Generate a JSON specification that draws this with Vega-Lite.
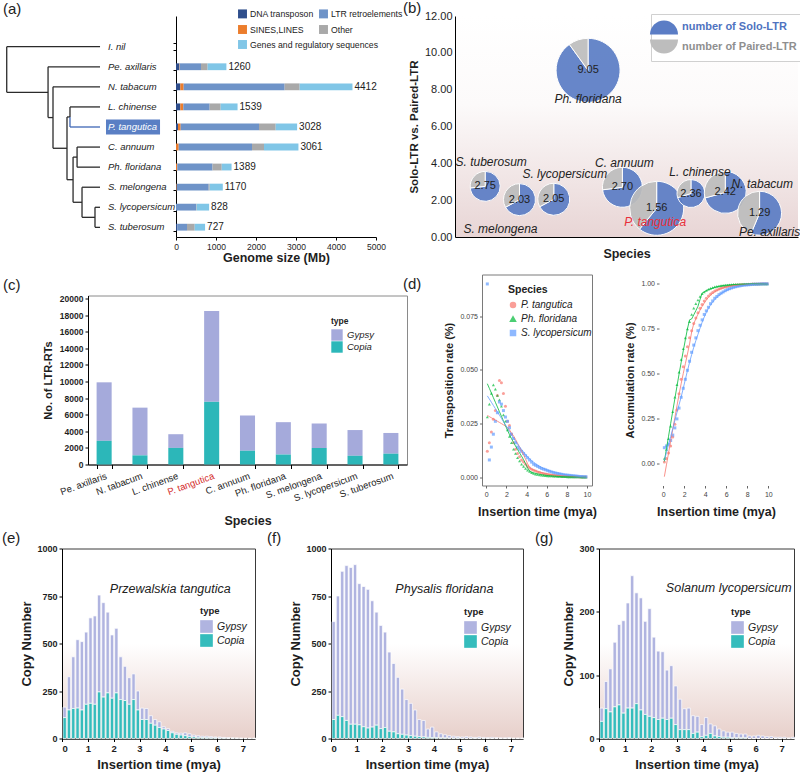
{
"$schema":"https://vega.github.io/schema/vega-lite/v6.json",
"autosize":{"type":"pad"},
"padding":{"left":0,"top":0,"right":0,"bottom":2},
"background":"white",
"config":{"font":"Liberation Sans","view":{"stroke":null},
 "axis":{"grid":false,"domainColor":"#000","tickColor":"#000","labelColor":"#1e1e1e","titleColor":"#1e1e1e","labelOverlap":false},
 "title":{"fontSize":15,"fontWeight":"normal","color":"#222","anchor":"start"},
 "legend":{"labelColor":"#222","titleColor":"#222"}},
"datasets":{
"tree":[
{"x0":0,"x1":0,"y0":0,"y1":2.27,"to":"R"},{"x0":0,"x1":1,"y0":0,"y1":0,"to":"I. nil"},{"x0":0,"x1":0.443,"y0":2.27,"y1":2.27,"to":"A"},
{"x0":0.443,"x1":0.443,"y0":1,"y1":3.53,"to":"A"},{"x0":0.443,"x1":1,"y0":1,"y1":1,"to":"Pe. axillaris"},{"x0":0.443,"x1":0.496,"y0":3.53,"y1":3.53,"to":"B"},
{"x0":0.496,"x1":0.496,"y0":2,"y1":5.06,"to":"B"},{"x0":0.496,"x1":1,"y0":2,"y1":2,"to":"N. tabacum"},{"x0":0.496,"x1":0.646,"y0":5.06,"y1":5.06,"to":"C"},
{"x0":0.646,"x1":0.646,"y0":3.5,"y1":6.625,"to":"C"},{"x0":0.646,"x1":0.678,"y0":3.5,"y1":3.5,"to":"D"},{"x0":0.646,"x1":0.711,"y0":6.625,"y1":6.625,"to":"E"},
{"x0":0.678,"x1":0.678,"y0":3,"y1":3.5,"to":"L. chinense"},{"x0":0.678,"x1":0.678,"y0":3.5,"y1":4,"to":"P. tangutica"},{"x0":0.678,"x1":1,"y0":3,"y1":3,"to":"L. chinense"},{"x0":0.678,"x1":1,"y0":4,"y1":4,"to":"P. tangutica"},
{"x0":0.711,"x1":0.711,"y0":5.5,"y1":7.75,"to":"E"},{"x0":0.711,"x1":0.754,"y0":5.5,"y1":5.5,"to":"F"},{"x0":0.711,"x1":0.807,"y0":7.75,"y1":7.75,"to":"G"},
{"x0":0.754,"x1":0.754,"y0":5,"y1":6,"to":"F"},{"x0":0.754,"x1":1,"y0":5,"y1":5,"to":"C. annuum"},{"x0":0.754,"x1":1,"y0":6,"y1":6,"to":"Ph. floridana"},
{"x0":0.807,"x1":0.807,"y0":7,"y1":8.5,"to":"G"},{"x0":0.807,"x1":1,"y0":7,"y1":7,"to":"S. melongena"},{"x0":0.807,"x1":0.946,"y0":8.5,"y1":8.5,"to":"H"},
{"x0":0.946,"x1":0.946,"y0":8,"y1":9,"to":"H"},{"x0":0.946,"x1":1,"y0":8,"y1":8,"to":"S. lycopersicum"},{"x0":0.946,"x1":1,"y0":9,"y1":9,"to":"S. tuberosum"}],
"species10":[{"species":"I. nil","row":0},{"species":"Pe. axillaris","row":1},{"species":"N. tabacum","row":2},{"species":"L. chinense","row":3},{"species":"P. tangutica","row":4},{"species":"C. annuum","row":5},{"species":"Ph. floridana","row":6},{"species":"S. melongena","row":7},{"species":"S. lycopersicum","row":8},{"species":"S. tuberosum","row":9}],
"genome":[
{"species":"Pe. axillaris","type":"DNA transposon","mb":80},{"species":"Pe. axillaris","type":"SINES,LINES","mb":10},{"species":"Pe. axillaris","type":"LTR retroelements","mb":535},{"species":"Pe. axillaris","type":"Other","mb":165},{"species":"Pe. axillaris","type":"Genes and regulatory sequences","mb":470},
{"species":"N. tabacum","type":"DNA transposon","mb":108},{"species":"N. tabacum","type":"SINES,LINES","mb":83},{"species":"N. tabacum","type":"LTR retroelements","mb":2525},{"species":"N. tabacum","type":"Other","mb":375},{"species":"N. tabacum","type":"Genes and regulatory sequences","mb":1321},
{"species":"L. chinense","type":"DNA transposon","mb":108},{"species":"L. chinense","type":"SINES,LINES","mb":75},{"species":"L. chinense","type":"LTR retroelements","mb":658},{"species":"L. chinense","type":"Other","mb":275},{"species":"L. chinense","type":"Genes and regulatory sequences","mb":423},
{"species":"P. tangutica","type":"DNA transposon","mb":50},{"species":"P. tangutica","type":"SINES,LINES","mb":67},{"species":"P. tangutica","type":"LTR retroelements","mb":1958},{"species":"P. tangutica","type":"Other","mb":417},{"species":"P. tangutica","type":"Genes and regulatory sequences","mb":536},
{"species":"C. annuum","type":"DNA transposon","mb":0},{"species":"C. annuum","type":"SINES,LINES","mb":67},{"species":"C. annuum","type":"LTR retroelements","mb":1833},{"species":"C. annuum","type":"Other","mb":300},{"species":"C. annuum","type":"Genes and regulatory sequences","mb":861},
{"species":"Ph. floridana","type":"DNA transposon","mb":0},{"species":"Ph. floridana","type":"SINES,LINES","mb":33},{"species":"Ph. floridana","type":"LTR retroelements","mb":880},{"species":"Ph. floridana","type":"Other","mb":230},{"species":"Ph. floridana","type":"Genes and regulatory sequences","mb":246},
{"species":"S. melongena","type":"DNA transposon","mb":0},{"species":"S. melongena","type":"SINES,LINES","mb":17},{"species":"S. melongena","type":"LTR retroelements","mb":800},{"species":"S. melongena","type":"Other","mb":25},{"species":"S. melongena","type":"Genes and regulatory sequences","mb":328},
{"species":"S. lycopersicum","type":"DNA transposon","mb":0},{"species":"S. lycopersicum","type":"SINES,LINES","mb":0},{"species":"S. lycopersicum","type":"LTR retroelements","mb":500},{"species":"S. lycopersicum","type":"Other","mb":15},{"species":"S. lycopersicum","type":"Genes and regulatory sequences","mb":313},
{"species":"S. tuberosum","type":"DNA transposon","mb":33},{"species":"S. tuberosum","type":"SINES,LINES","mb":0},{"species":"S. tuberosum","type":"LTR retroelements","mb":242},{"species":"S. tuberosum","type":"Other","mb":192},{"species":"S. tuberosum","type":"Genes and regulatory sequences","mb":260}],
"totals":[{"species":"Pe. axillaris","total":1260},{"species":"N. tabacum","total":4412},{"species":"L. chinense","total":1539},{"species":"P. tangutica","total":3028},{"species":"C. annuum","total":3061},{"species":"Ph. floridana","total":1389},{"species":"S. melongena","total":1170},{"species":"S. lycopersicum","total":828},{"species":"S. tuberosum","total":727}],
"pies":[
{"species":"S. tuberosum","ratio":2.75,"n":2250,"part":"number of Solo-LTR","value":2.75},{"species":"S. tuberosum","ratio":2.75,"n":2250,"part":"number of Paired-LTR","value":1},
{"species":"S. melongena","ratio":2.03,"n":2560,"part":"number of Solo-LTR","value":2.03},{"species":"S. melongena","ratio":2.03,"n":2560,"part":"number of Paired-LTR","value":1},
{"species":"S. lycopersicum","ratio":2.05,"n":2560,"part":"number of Solo-LTR","value":2.05},{"species":"S. lycopersicum","ratio":2.05,"n":2560,"part":"number of Paired-LTR","value":1},
{"species":"Ph. floridana","ratio":9.05,"n":10240,"part":"number of Solo-LTR","value":9.05},{"species":"Ph. floridana","ratio":9.05,"n":10240,"part":"number of Paired-LTR","value":1},
{"species":"C. annuum","ratio":2.70,"n":4000,"part":"number of Solo-LTR","value":2.70},{"species":"C. annuum","ratio":2.70,"n":4000,"part":"number of Paired-LTR","value":1},
{"species":"P. tangutica","ratio":1.56,"n":7290,"part":"number of Solo-LTR","value":1.56},{"species":"P. tangutica","ratio":1.56,"n":7290,"part":"number of Paired-LTR","value":1},
{"species":"L. chinense","ratio":2.36,"n":1960,"part":"number of Solo-LTR","value":2.36},{"species":"L. chinense","ratio":2.36,"n":1960,"part":"number of Paired-LTR","value":1},
{"species":"N. tabacum","ratio":2.42,"n":4410,"part":"number of Solo-LTR","value":2.42},{"species":"N. tabacum","ratio":2.42,"n":4410,"part":"number of Paired-LTR","value":1},
{"species":"Pe. axillaris","ratio":1.29,"n":4840,"part":"number of Solo-LTR","value":1.29},{"species":"Pe. axillaris","ratio":1.29,"n":4840,"part":"number of Paired-LTR","value":1}],
"ltr":[{"species":"Pe. axillaris","Gypsy":7050,"Copia":2850},{"species":"N. tabacum","Gypsy":5750,"Copia":1100},{"species":"L. chinense","Gypsy":1650,"Copia":2000},{"species":"P. tangutica","Gypsy":10950,"Copia":7550},{"species":"C. annuum","Gypsy":4250,"Copia":1650},{"species":"Ph. floridana","Gypsy":3900,"Copia":1200},{"species":"S. melongena","Gypsy":2950,"Copia":2000},{"species":"S. lycopersicum","Gypsy":3100,"Copia":1050},{"species":"S. tuberosum","Gypsy":2500,"Copia":1300}],
"rates":[
{"sp":"P. tangutica","t":0.1,"rate":0.012,"acc":0.01},{"sp":"P. tangutica","t":0.3,"rate":0.016,"acc":0.03},{"sp":"P. tangutica","t":0.5,"rate":0.021,"acc":0.06},{"sp":"P. tangutica","t":0.7,"rate":0.027,"acc":0.10},{"sp":"P. tangutica","t":0.9,"rate":0.031,"acc":0.15},{"sp":"P. tangutica","t":1.1,"rate":0.038,"acc":0.22},{"sp":"P. tangutica","t":1.3,"rate":0.045,"acc":0.30},{"sp":"P. tangutica","t":1.5,"rate":0.044,"acc":0.39},{"sp":"P. tangutica","t":1.7,"rate":0.039,"acc":0.47},{"sp":"P. tangutica","t":1.9,"rate":0.033,"acc":0.54},
{"sp":"P. tangutica","t":2.1,"rate":0.026,"acc":0.60},{"sp":"P. tangutica","t":2.3,"rate":0.024,"acc":0.65},{"sp":"P. tangutica","t":2.5,"rate":0.020,"acc":0.70},{"sp":"P. tangutica","t":2.7,"rate":0.016,"acc":0.74},{"sp":"P. tangutica","t":2.9,"rate":0.013,"acc":0.78},{"sp":"P. tangutica","t":3.1,"rate":0.011,"acc":0.81},{"sp":"P. tangutica","t":3.3,"rate":0.0095,"acc":0.84},{"sp":"P. tangutica","t":3.5,"rate":0.008,"acc":0.865},{"sp":"P. tangutica","t":3.7,"rate":0.007,"acc":0.885},{"sp":"P. tangutica","t":3.9,"rate":0.006,"acc":0.905},
{"sp":"P. tangutica","t":4.1,"rate":0.005,"acc":0.92},{"sp":"P. tangutica","t":4.3,"rate":0.0043,"acc":0.932},{"sp":"P. tangutica","t":4.5,"rate":0.0037,"acc":0.943},{"sp":"P. tangutica","t":4.7,"rate":0.0032,"acc":0.952},{"sp":"P. tangutica","t":4.9,"rate":0.0028,"acc":0.96},{"sp":"P. tangutica","t":5.1,"rate":0.0024,"acc":0.966},{"sp":"P. tangutica","t":5.3,"rate":0.0021,"acc":0.971},{"sp":"P. tangutica","t":5.5,"rate":0.0018,"acc":0.976},{"sp":"P. tangutica","t":5.7,"rate":0.0016,"acc":0.98},{"sp":"P. tangutica","t":5.9,"rate":0.0014,"acc":0.983},
{"sp":"P. tangutica","t":6.1,"rate":0.0012,"acc":0.986},{"sp":"P. tangutica","t":6.3,"rate":0.0011,"acc":0.988},{"sp":"P. tangutica","t":6.5,"rate":0.001,"acc":0.99},{"sp":"P. tangutica","t":6.7,"rate":0.0009,"acc":0.992},{"sp":"P. tangutica","t":6.9,"rate":0.0008,"acc":0.993},{"sp":"P. tangutica","t":7.1,"rate":0.0007,"acc":0.994},{"sp":"P. tangutica","t":7.3,"rate":0.0006,"acc":0.995},{"sp":"P. tangutica","t":7.5,"rate":0.0005,"acc":0.996},{"sp":"P. tangutica","t":7.7,"rate":0.0005,"acc":0.997},{"sp":"P. tangutica","t":7.9,"rate":0.0004,"acc":0.997},
{"sp":"P. tangutica","t":8.1,"rate":0.0004,"acc":0.998},{"sp":"P. tangutica","t":8.3,"rate":0.0003,"acc":0.998},{"sp":"P. tangutica","t":8.5,"rate":0.0003,"acc":0.999},{"sp":"P. tangutica","t":8.7,"rate":0.0002,"acc":0.999},{"sp":"P. tangutica","t":8.9,"rate":0.0002,"acc":0.999},{"sp":"P. tangutica","t":9.1,"rate":0.0002,"acc":0.999},{"sp":"P. tangutica","t":9.3,"rate":0.0001,"acc":1},{"sp":"P. tangutica","t":9.5,"rate":0.0001,"acc":1},{"sp":"P. tangutica","t":9.7,"rate":0.0001,"acc":1},{"sp":"P. tangutica","t":9.9,"rate":0.0001,"acc":1},
{"sp":"Ph. floridana","t":0.1,"rate":0.028,"acc":0.03},{"sp":"Ph. floridana","t":0.3,"rate":0.034,"acc":0.08},{"sp":"Ph. floridana","t":0.5,"rate":0.039,"acc":0.14},{"sp":"Ph. floridana","t":0.7,"rate":0.043,"acc":0.21},{"sp":"Ph. floridana","t":0.9,"rate":0.041,"acc":0.29},{"sp":"Ph. floridana","t":1.1,"rate":0.038,"acc":0.37},{"sp":"Ph. floridana","t":1.3,"rate":0.036,"acc":0.44},{"sp":"Ph. floridana","t":1.5,"rate":0.033,"acc":0.51},{"sp":"Ph. floridana","t":1.7,"rate":0.029,"acc":0.58},{"sp":"Ph. floridana","t":1.9,"rate":0.026,"acc":0.64},
{"sp":"Ph. floridana","t":2.1,"rate":0.022,"acc":0.70},{"sp":"Ph. floridana","t":2.3,"rate":0.019,"acc":0.75},{"sp":"Ph. floridana","t":2.5,"rate":0.016,"acc":0.79},{"sp":"Ph. floridana","t":2.7,"rate":0.013,"acc":0.83},{"sp":"Ph. floridana","t":2.9,"rate":0.011,"acc":0.865},{"sp":"Ph. floridana","t":3.1,"rate":0.009,"acc":0.89},{"sp":"Ph. floridana","t":3.3,"rate":0.0075,"acc":0.91},{"sp":"Ph. floridana","t":3.5,"rate":0.006,"acc":0.93},{"sp":"Ph. floridana","t":3.7,"rate":0.005,"acc":0.945},{"sp":"Ph. floridana","t":3.9,"rate":0.004,"acc":0.955},
{"sp":"Ph. floridana","t":4.1,"rate":0.0032,"acc":0.963},{"sp":"Ph. floridana","t":4.3,"rate":0.0026,"acc":0.97},{"sp":"Ph. floridana","t":4.5,"rate":0.0021,"acc":0.975},{"sp":"Ph. floridana","t":4.7,"rate":0.0017,"acc":0.979},{"sp":"Ph. floridana","t":4.9,"rate":0.0014,"acc":0.983},{"sp":"Ph. floridana","t":5.1,"rate":0.0012,"acc":0.986},{"sp":"Ph. floridana","t":5.3,"rate":0.001,"acc":0.988},{"sp":"Ph. floridana","t":5.5,"rate":0.0009,"acc":0.99},{"sp":"Ph. floridana","t":5.7,"rate":0.0008,"acc":0.992},{"sp":"Ph. floridana","t":5.9,"rate":0.0007,"acc":0.993},
{"sp":"Ph. floridana","t":6.1,"rate":0.0006,"acc":0.994},{"sp":"Ph. floridana","t":6.3,"rate":0.0005,"acc":0.995},{"sp":"Ph. floridana","t":6.5,"rate":0.0005,"acc":0.996},{"sp":"Ph. floridana","t":6.7,"rate":0.0004,"acc":0.997},{"sp":"Ph. floridana","t":6.9,"rate":0.0004,"acc":0.997},{"sp":"Ph. floridana","t":7.1,"rate":0.0003,"acc":0.998},{"sp":"Ph. floridana","t":7.3,"rate":0.0003,"acc":0.998},{"sp":"Ph. floridana","t":7.5,"rate":0.0002,"acc":0.998},{"sp":"Ph. floridana","t":7.7,"rate":0.0002,"acc":0.999},{"sp":"Ph. floridana","t":7.9,"rate":0.0002,"acc":0.999},
{"sp":"Ph. floridana","t":8.1,"rate":0.0001,"acc":0.999},{"sp":"Ph. floridana","t":8.3,"rate":0.0001,"acc":0.999},{"sp":"Ph. floridana","t":8.5,"rate":0.0001,"acc":1},{"sp":"Ph. floridana","t":8.7,"rate":0.0001,"acc":1},{"sp":"Ph. floridana","t":8.9,"rate":0.0001,"acc":1},{"sp":"Ph. floridana","t":9.1,"rate":0.0001,"acc":1},{"sp":"Ph. floridana","t":9.3,"rate":0.0001,"acc":1},{"sp":"Ph. floridana","t":9.5,"rate":0,"acc":1},{"sp":"Ph. floridana","t":9.7,"rate":0,"acc":1},{"sp":"Ph. floridana","t":9.9,"rate":0,"acc":1},
{"sp":"S. lycopersicum","t":0.1,"rate":0.090,"acc":0.09},{"sp":"S. lycopersicum","t":0.3,"rate":0.008,"acc":0.10},{"sp":"S. lycopersicum","t":0.5,"rate":0.014,"acc":0.11},{"sp":"S. lycopersicum","t":0.7,"rate":0.020,"acc":0.13},{"sp":"S. lycopersicum","t":0.9,"rate":0.026,"acc":0.16},{"sp":"S. lycopersicum","t":1.1,"rate":0.030,"acc":0.20},{"sp":"S. lycopersicum","t":1.3,"rate":0.035,"acc":0.25},{"sp":"S. lycopersicum","t":1.5,"rate":0.034,"acc":0.31},{"sp":"S. lycopersicum","t":1.7,"rate":0.031,"acc":0.37},{"sp":"S. lycopersicum","t":1.9,"rate":0.028,"acc":0.42},
{"sp":"S. lycopersicum","t":2.1,"rate":0.026,"acc":0.47},{"sp":"S. lycopersicum","t":2.3,"rate":0.023,"acc":0.52},{"sp":"S. lycopersicum","t":2.5,"rate":0.020,"acc":0.57},{"sp":"S. lycopersicum","t":2.7,"rate":0.018,"acc":0.62},{"sp":"S. lycopersicum","t":2.9,"rate":0.016,"acc":0.66},{"sp":"S. lycopersicum","t":3.1,"rate":0.014,"acc":0.70},{"sp":"S. lycopersicum","t":3.3,"rate":0.013,"acc":0.74},{"sp":"S. lycopersicum","t":3.5,"rate":0.012,"acc":0.77},{"sp":"S. lycopersicum","t":3.7,"rate":0.011,"acc":0.80},{"sp":"S. lycopersicum","t":3.9,"rate":0.010,"acc":0.83},
{"sp":"S. lycopersicum","t":4.1,"rate":0.009,"acc":0.85},{"sp":"S. lycopersicum","t":4.3,"rate":0.008,"acc":0.87},{"sp":"S. lycopersicum","t":4.5,"rate":0.007,"acc":0.89},{"sp":"S. lycopersicum","t":4.7,"rate":0.006,"acc":0.905},{"sp":"S. lycopersicum","t":4.9,"rate":0.0055,"acc":0.92},{"sp":"S. lycopersicum","t":5.1,"rate":0.005,"acc":0.93},{"sp":"S. lycopersicum","t":5.3,"rate":0.0045,"acc":0.94},{"sp":"S. lycopersicum","t":5.5,"rate":0.004,"acc":0.948},{"sp":"S. lycopersicum","t":5.7,"rate":0.0037,"acc":0.955},{"sp":"S. lycopersicum","t":5.9,"rate":0.0034,"acc":0.962},
{"sp":"S. lycopersicum","t":6.1,"rate":0.003,"acc":0.968},{"sp":"S. lycopersicum","t":6.3,"rate":0.0027,"acc":0.973},{"sp":"S. lycopersicum","t":6.5,"rate":0.0024,"acc":0.977},{"sp":"S. lycopersicum","t":6.7,"rate":0.0021,"acc":0.981},{"sp":"S. lycopersicum","t":6.9,"rate":0.0019,"acc":0.984},{"sp":"S. lycopersicum","t":7.1,"rate":0.0017,"acc":0.987},{"sp":"S. lycopersicum","t":7.3,"rate":0.0015,"acc":0.989},{"sp":"S. lycopersicum","t":7.5,"rate":0.0013,"acc":0.991},{"sp":"S. lycopersicum","t":7.7,"rate":0.0011,"acc":0.993},{"sp":"S. lycopersicum","t":7.9,"rate":0.001,"acc":0.994},
{"sp":"S. lycopersicum","t":8.1,"rate":0.0009,"acc":0.995},{"sp":"S. lycopersicum","t":8.3,"rate":0.0008,"acc":0.996},{"sp":"S. lycopersicum","t":8.5,"rate":0.0007,"acc":0.997},{"sp":"S. lycopersicum","t":8.7,"rate":0.0006,"acc":0.998},{"sp":"S. lycopersicum","t":8.9,"rate":0.0005,"acc":0.998},{"sp":"S. lycopersicum","t":9.1,"rate":0.0004,"acc":0.999},{"sp":"S. lycopersicum","t":9.3,"rate":0.0003,"acc":0.999},{"sp":"S. lycopersicum","t":9.5,"rate":0.0003,"acc":1},{"sp":"S. lycopersicum","t":9.7,"rate":0.0002,"acc":1},{"sp":"S. lycopersicum","t":9.9,"rate":0.0002,"acc":1}],
"pt_hist":[
{"t0":0,"t1":0.167,"Gypsy":55,"Copia":110},{"t0":0.167,"t1":0.333,"Gypsy":175,"Copia":150},{"t0":0.333,"t1":0.5,"Gypsy":272,"Copia":158},{"t0":0.5,"t1":0.667,"Gypsy":360,"Copia":160},{"t0":0.667,"t1":0.833,"Gypsy":360,"Copia":150},{"t0":0.833,"t1":1,"Gypsy":380,"Copia":180},{"t0":1,"t1":1.167,"Gypsy":450,"Copia":185},{"t0":1.167,"t1":1.333,"Gypsy":465,"Copia":180},{"t0":1.333,"t1":1.5,"Gypsy":510,"Copia":245},
{"t0":1.5,"t1":1.667,"Gypsy":497,"Copia":218},{"t0":1.667,"t1":1.833,"Gypsy":425,"Copia":240},{"t0":1.833,"t1":2,"Gypsy":333,"Copia":212},{"t0":2,"t1":2.167,"Gypsy":340,"Copia":240},{"t0":2.167,"t1":2.333,"Gypsy":225,"Copia":205},{"t0":2.333,"t1":2.5,"Gypsy":180,"Copia":200},{"t0":2.5,"t1":2.667,"Gypsy":140,"Copia":180},{"t0":2.667,"t1":2.833,"Gypsy":135,"Copia":205},{"t0":2.833,"t1":3,"Gypsy":100,"Copia":150},
{"t0":3,"t1":3.167,"Gypsy":60,"Copia":100},{"t0":3.167,"t1":3.333,"Gypsy":58,"Copia":100},{"t0":3.333,"t1":3.5,"Gypsy":40,"Copia":80},{"t0":3.5,"t1":3.667,"Gypsy":30,"Copia":70},{"t0":3.667,"t1":3.833,"Gypsy":30,"Copia":58},{"t0":3.833,"t1":4,"Gypsy":12,"Copia":50},{"t0":4,"t1":4.167,"Gypsy":10,"Copia":42},{"t0":4.167,"t1":4.333,"Gypsy":8,"Copia":30},{"t0":4.333,"t1":4.5,"Gypsy":8,"Copia":22},
{"t0":4.5,"t1":4.667,"Gypsy":10,"Copia":18},{"t0":4.667,"t1":4.833,"Gypsy":15,"Copia":15},{"t0":4.833,"t1":5,"Gypsy":15,"Copia":10},{"t0":5,"t1":5.167,"Gypsy":10,"Copia":8},{"t0":5.167,"t1":5.333,"Gypsy":9,"Copia":6},{"t0":5.333,"t1":5.5,"Gypsy":7,"Copia":5},{"t0":5.5,"t1":5.667,"Gypsy":8,"Copia":4},{"t0":5.667,"t1":5.833,"Gypsy":7,"Copia":3},{"t0":5.833,"t1":6,"Gypsy":5,"Copia":3},
{"t0":6,"t1":6.167,"Gypsy":6,"Copia":2},{"t0":6.167,"t1":6.333,"Gypsy":4,"Copia":2},{"t0":6.333,"t1":6.5,"Gypsy":4,"Copia":1},{"t0":6.5,"t1":6.667,"Gypsy":3,"Copia":1},{"t0":6.667,"t1":6.833,"Gypsy":2,"Copia":1},{"t0":6.833,"t1":7,"Gypsy":3,"Copia":0},{"t0":7,"t1":7.167,"Gypsy":2,"Copia":0},{"t0":7.167,"t1":7.333,"Gypsy":2,"Copia":0},{"t0":7.333,"t1":7.5,"Gypsy":2,"Copia":0}],
"pf_hist":[
{"t0":0,"t1":0.167,"Gypsy":515,"Copia":100},{"t0":0.167,"t1":0.333,"Gypsy":628,"Copia":122},{"t0":0.333,"t1":0.5,"Gypsy":765,"Copia":115},{"t0":0.5,"t1":0.667,"Gypsy":815,"Copia":95},{"t0":0.667,"t1":0.833,"Gypsy":825,"Copia":75},{"t0":0.833,"t1":1,"Gypsy":840,"Copia":75},{"t0":1,"t1":1.167,"Gypsy":743,"Copia":72},{"t0":1.167,"t1":1.333,"Gypsy":738,"Copia":62},{"t0":1.333,"t1":1.5,"Gypsy":730,"Copia":55},
{"t0":1.5,"t1":1.667,"Gypsy":665,"Copia":60},{"t0":1.667,"t1":1.833,"Gypsy":595,"Copia":70},{"t0":1.833,"t1":2,"Gypsy":543,"Copia":52},{"t0":2,"t1":2.167,"Gypsy":502,"Copia":58},{"t0":2.167,"t1":2.333,"Gypsy":417,"Copia":38},{"t0":2.333,"t1":2.5,"Gypsy":360,"Copia":35},{"t0":2.5,"t1":2.667,"Gypsy":297,"Copia":25},{"t0":2.667,"t1":2.833,"Gypsy":238,"Copia":22},{"t0":2.833,"t1":3,"Gypsy":187,"Copia":18},
{"t0":3,"t1":3.167,"Gypsy":170,"Copia":15},{"t0":3.167,"t1":3.333,"Gypsy":138,"Copia":12},{"t0":3.333,"t1":3.5,"Gypsy":90,"Copia":10},{"t0":3.5,"t1":3.667,"Gypsy":87,"Copia":8},{"t0":3.667,"t1":3.833,"Gypsy":44,"Copia":6},{"t0":3.833,"t1":4,"Gypsy":55,"Copia":5},{"t0":4,"t1":4.167,"Gypsy":31,"Copia":4},{"t0":4.167,"t1":4.333,"Gypsy":22,"Copia":3},{"t0":4.333,"t1":4.5,"Gypsy":17,"Copia":3},
{"t0":4.5,"t1":4.667,"Gypsy":13,"Copia":2},{"t0":4.667,"t1":4.833,"Gypsy":10,"Copia":2},{"t0":4.833,"t1":5,"Gypsy":8,"Copia":2},{"t0":5,"t1":5.167,"Gypsy":7,"Copia":1},{"t0":5.167,"t1":5.333,"Gypsy":9,"Copia":1},{"t0":5.333,"t1":5.5,"Gypsy":7,"Copia":1},{"t0":5.5,"t1":5.667,"Gypsy":5,"Copia":1},{"t0":5.667,"t1":5.833,"Gypsy":7,"Copia":1},{"t0":5.833,"t1":6,"Gypsy":5,"Copia":1},
{"t0":6,"t1":6.167,"Gypsy":5,"Copia":0},{"t0":6.167,"t1":6.333,"Gypsy":6,"Copia":0},{"t0":6.333,"t1":6.5,"Gypsy":5,"Copia":0},{"t0":6.5,"t1":6.667,"Gypsy":4,"Copia":0},{"t0":6.667,"t1":6.833,"Gypsy":4,"Copia":0},{"t0":6.833,"t1":7,"Gypsy":5,"Copia":0},{"t0":7,"t1":7.167,"Gypsy":3,"Copia":0},{"t0":7.167,"t1":7.333,"Gypsy":3,"Copia":0},{"t0":7.333,"t1":7.5,"Gypsy":3,"Copia":0}],
"sl_hist":[
{"t0":0,"t1":0.167,"Gypsy":21,"Copia":27},{"t0":0.167,"t1":0.333,"Gypsy":43,"Copia":47},{"t0":0.333,"t1":0.5,"Gypsy":68,"Copia":42},{"t0":0.5,"t1":0.667,"Gypsy":102,"Copia":50},{"t0":0.667,"t1":0.833,"Gypsy":127,"Copia":53},{"t0":0.833,"t1":1,"Gypsy":146,"Copia":40},{"t0":1,"t1":1.167,"Gypsy":166,"Copia":48},{"t0":1.167,"t1":1.333,"Gypsy":209,"Copia":48},{"t0":1.333,"t1":1.5,"Gypsy":175,"Copia":55},
{"t0":1.5,"t1":1.667,"Gypsy":177,"Copia":45},{"t0":1.667,"t1":1.833,"Gypsy":147,"Copia":38},{"t0":1.833,"t1":2,"Gypsy":170,"Copia":35},{"t0":2,"t1":2.167,"Gypsy":127,"Copia":33},{"t0":2.167,"t1":2.333,"Gypsy":108,"Copia":30},{"t0":2.333,"t1":2.5,"Gypsy":105,"Copia":32},{"t0":2.5,"t1":2.667,"Gypsy":78,"Copia":30},{"t0":2.667,"t1":2.833,"Gypsy":83,"Copia":32},{"t0":2.833,"t1":3,"Gypsy":61,"Copia":22},
{"t0":3,"t1":3.167,"Gypsy":48,"Copia":14},{"t0":3.167,"t1":3.333,"Gypsy":33,"Copia":14},{"t0":3.333,"t1":3.5,"Gypsy":34,"Copia":14},{"t0":3.5,"t1":3.667,"Gypsy":28,"Copia":8},{"t0":3.667,"t1":3.833,"Gypsy":25,"Copia":10},{"t0":3.833,"t1":4,"Gypsy":19,"Copia":3},{"t0":4,"t1":4.167,"Gypsy":28,"Copia":5},{"t0":4.167,"t1":4.333,"Gypsy":15,"Copia":8},{"t0":4.333,"t1":4.5,"Gypsy":16,"Copia":4},
{"t0":4.5,"t1":4.667,"Gypsy":12,"Copia":3},{"t0":4.667,"t1":4.833,"Gypsy":10,"Copia":2},{"t0":4.833,"t1":5,"Gypsy":8,"Copia":2},{"t0":5,"t1":5.167,"Gypsy":9,"Copia":1},{"t0":5.167,"t1":5.333,"Gypsy":7,"Copia":1},{"t0":5.333,"t1":5.5,"Gypsy":6,"Copia":1},{"t0":5.5,"t1":5.667,"Gypsy":6,"Copia":1},{"t0":5.667,"t1":5.833,"Gypsy":4,"Copia":0},{"t0":5.833,"t1":6,"Gypsy":4,"Copia":0},
{"t0":6,"t1":6.167,"Gypsy":5,"Copia":0},{"t0":6.167,"t1":6.333,"Gypsy":4,"Copia":0},{"t0":6.333,"t1":6.5,"Gypsy":3,"Copia":0},{"t0":6.5,"t1":6.667,"Gypsy":3,"Copia":0},{"t0":6.667,"t1":6.833,"Gypsy":2,"Copia":0},{"t0":6.833,"t1":7,"Gypsy":2,"Copia":0},{"t0":7,"t1":7.167,"Gypsy":2,"Copia":0},{"t0":7.167,"t1":7.333,"Gypsy":1,"Copia":0},{"t0":7.333,"t1":7.5,"Gypsy":2,"Copia":0}]
},
"spacing":9.5,
"resolve":{"scale":{"color":"independent","shape":"independent","fill":"independent"}},
"vconcat":[
{"hconcat":[
  {"width":173,"height":221,
   "title":{"text":"(a)","frame":"group","anchor":"start","dx":3,"offset":-16,"baseline":"bottom"},
   "layer":[
    {"data":{"name":"tree"},"mark":{"type":"rule","strokeWidth":1.3},
     "encoding":{"x":{"field":"x0","type":"quantitative","scale":{"domain":[-0.072,1.782],"nice":false,"zero":false},"axis":null},
      "x2":{"field":"x1"},
      "y":{"field":"y0","type":"quantitative","scale":{"domain":[-1.53,9.48],"nice":false,"zero":false,"reverse":true},"axis":null},
      "y2":{"field":"y1"},
      "color":{"condition":{"test":"datum.to === 'P. tangutica'","value":"#3f67b5"},"value":"#2b2b2b"}}},
    {"data":{"values":[{"species":"P. tangutica"}]},"mark":{"type":"rect","color":"#5a7fc4"},
     "encoding":{"x":{"datum":1.064},"x2":{"datum":1.643},"y":{"datum":3.63},"y2":{"datum":4.37}}},
    {"data":{"name":"species10"},"mark":{"type":"text","align":"left","dx":8,"fontSize":9.5,"fontStyle":"italic"},
     "encoding":{"x":{"datum":1},"y":{"field":"row","type":"quantitative"},"text":{"field":"species"},
      "color":{"condition":{"test":"datum.species === 'P. tangutica'","value":"#ffffff"},"value":"#222222"}}}
   ]},
  {"width":200,"height":221,
   "layer":[
    {"data":{"name":"genome"},
     "transform":[{"window":[{"op":"row_number","as":"k"}],"groupby":["species"]}],
     "mark":{"type":"bar"},
     "encoding":{
      "y":{"field":"species","type":"nominal","scale":{"domain":["I. nil","Pe. axillaris","N. tabacum","L. chinense","P. tangutica","C. annuum","Ph. floridana","S. melongena","S. lycopersicum","S. tuberosum"],"paddingInner":0.66,"paddingOuter":0.84,"align":0.81},"axis":{"labels":false,"title":null,"tickSize":3,"tickBand":"extent"}},
      "x":{"field":"mb","type":"quantitative","stack":"zero","scale":{"domain":[0,5000],"nice":false},"axis":{"values":[0,1000,2000,3000,4000,5000],"format":"d","labelOverlap":false,"labelFlush":false,"title":"Genome size (Mb)","titleFontSize":12.5,"titleFontWeight":"bold","labelFontSize":8.5,"tickSize":3,"titlePadding":1,"labelPadding":2}},
      "color":{"field":"type","type":"nominal","scale":{"domain":["DNA transposon","SINES,LINES","LTR retroelements","Other","Genes and regulatory sequences"],"range":["#2f4e8c","#ec7d2c","#6e93c8","#a9a9a9","#80c6e7"]},
       "legend":{"values":["DNA transposon","SINES,LINES","LTR retroelements","Other"],"title":null,"orient":"none","legendX":62,"legendY":-7,"columns":2,"symbolType":"square","symbolSize":80,"labelFontSize":8.7,"columnPadding":5,"rowPadding":6,"labelOffset":3,"symbolStrokeWidth":0,"padding":0}},
      "order":{"field":"k","type":"quantitative"}}},
    {"data":{"name":"genome"},
     "transform":[{"filter":"datum.type === 'Genes and regulatory sequences'"}],
     "mark":{"type":"bar","opacity":0},
     "encoding":{
      "y":{"field":"species","type":"nominal","axis":{"labels":false,"title":null,"tickSize":3,"tickBand":"extent"}},
      "x":{"field":"mb","type":"quantitative","stack":null,"axis":{"values":[0,1000,2000,3000,4000,5000],"format":"d","labelOverlap":false,"labelFlush":false,"title":"Genome size (Mb)","titleFontSize":12.5,"titleFontWeight":"bold","labelFontSize":8.5,"tickSize":3,"titlePadding":1,"labelPadding":2}},
      "fill":{"field":"type","type":"nominal","scale":{"domain":["Genes and regulatory sequences"],"range":["#80c6e7"]},
       "legend":{"title":null,"orient":"none","legendX":62,"legendY":24,"symbolType":"square","symbolSize":80,"labelFontSize":8.7,"labelOffset":3,"symbolStrokeWidth":0,"symbolOpacity":1,"padding":0}}}},
    {"data":{"name":"totals"},"mark":{"type":"text","align":"left","dx":2,"fontSize":10,"color":"#222"},
     "encoding":{"y":{"field":"species","type":"nominal","axis":{"labels":false,"title":null,"tickSize":3,"tickBand":"extent"}},"x":{"field":"total","type":"quantitative","axis":{"values":[0,1000,2000,3000,4000,5000],"format":"d","labelOverlap":false,"labelFlush":false,"title":"Genome size (Mb)","titleFontSize":12.5,"titleFontWeight":"bold","labelFontSize":8.5,"tickSize":3,"titlePadding":1,"labelPadding":2}},"text":{"field":"total","type":"quantitative","format":"d"}}}
   ]},
  {"width":73,"height":1,"data":{"values":[{"a":1}]},"mark":{"type":"point","opacity":0},"encoding":{}},
  {"width":343,"height":221,
  "view":{"fill":{"gradient":"linear","x1":0,"y1":0,"x2":0,"y2":1,"stops":[{"offset":0,"color":"#ffffff"},{"offset":0.4,"color":"#fcfafa"},{"offset":1,"color":"#e8d5d5"}]}},
  "title":{"text":"(b)","frame":"group","anchor":"start","dx":-52,"offset":-20.5,"baseline":"bottom"},
  "data":{"name":"pies"},
  "transform":[{"stack":"value","groupby":["species"],"offset":"normalize","sort":[{"field":"part","order":"descending"}],"as":["a0","a1"]}],
  "encoding":{
   "x":{"field":"species","type":"nominal","scale":{"type":"point","domain":["S. tuberosum","S. melongena","S. lycopersicum","Ph. floridana","C. annuum","P. tangutica","L. chinense","N. tabacum","Pe. axillaris"],"padding":1.445,"align":0.44},"axis":{"title":"Species","labels":false,"ticks":false,"titleFontSize":12.5,"titleFontWeight":"bold","titlePadding":10}},
   "y":{"field":"ratio","type":"quantitative","stack":null,"scale":{"domain":[0,12],"nice":false},"axis":{"values":[0,2,4,6,8,10,12],"format":".2f","title":"Solo-LTR vs. Paired-LTR","titleFontSize":11.5,"titleFontWeight":"bold","labelFontSize":11,"ticks":false,"labelPadding":3,"titlePadding":5}}
  },
  "layer":[
   {"mark":{"type":"arc","stroke":"#ffffff","strokeWidth":1,"opacity":0.92},
    "encoding":{
     "theta":{"field":"a0","type":"quantitative","stack":null,"scale":{"domain":[0,1],"range":[0,6.2832]}},
     "theta2":{"field":"a1"},
     "radius":{"field":"n","type":"quantitative","scale":{"type":"sqrt","domain":[0,10240],"range":[0,32]}},
     "color":{"field":"part","type":"nominal","scale":{"domain":["number of Solo-LTR","number of Paired-LTR"],"range":["#5b7dc5","#bdbdbd"]},
      "legend":{"title":null,"orient":"none","legendX":196,"legendY":-2,"symbolSize":225,"labelFontSize":11,"labelFontWeight":"bold","labelColor":{"expr":"datum.label === 'number of Solo-LTR' ? '#4f73c0' : '#8f8f8f'"},"labelOffset":10,"strokeColor":"#d0d0d0","fillColor":"#ffffff","padding":5,"rowPadding":0,"symbolStrokeColor":"#ffffff","symbolStrokeWidth":1,"symbolOpacity":1}}}},
   {"mark":{"type":"point","opacity":0,"filled":true},
    "encoding":{
     "color":{"field":"part","type":"nominal","legend":{"title":null,"orient":"none","legendX":196,"legendY":-2,"symbolSize":225,"labelFontSize":11,"labelFontWeight":"bold","labelColor":{"expr":"datum.label === 'number of Solo-LTR' ? '#4f73c0' : '#8f8f8f'"},"labelOffset":10,"strokeColor":"#d0d0d0","fillColor":"#ffffff","padding":5,"rowPadding":0,"symbolStrokeColor":"#ffffff","symbolStrokeWidth":1,"symbolOpacity":1}},
     "shape":{"field":"part","type":"nominal","scale":{"domain":["number of Solo-LTR","number of Paired-LTR"],"range":["M -1.87 1 A 1.87 1.87 0 0 1 1.87 1 Z","M -1.87 -1 A 1.87 1.87 0 0 0 1.87 -1 Z"]},"legend":{"title":null,"orient":"none","legendX":196,"legendY":-2,"symbolSize":225,"labelFontSize":11,"labelFontWeight":"bold","labelColor":{"expr":"datum.label === 'number of Solo-LTR' ? '#4f73c0' : '#8f8f8f'"},"labelOffset":10,"strokeColor":"#d0d0d0","fillColor":"#ffffff","padding":5,"rowPadding":0,"symbolStrokeColor":"#ffffff","symbolStrokeWidth":1,"symbolOpacity":1}}}},
   {"transform":[{"filter":"datum.part === 'number of Solo-LTR'"}],"mark":{"type":"text","fontSize":11,"color":"#222"},"encoding":{"text":{"field":"ratio","type":"quantitative","format":".2f"}}},
   {"transform":[{"filter":"datum.part === 'number of Solo-LTR' && datum.species === 'S. tuberosum'"}],"mark":{"type":"text","fontSize":12,"fontStyle":"italic","color":"#222","dx":6,"dy":-24},"encoding":{"text":{"field":"species"}}},
   {"transform":[{"filter":"datum.part === 'number of Solo-LTR' && datum.species === 'S. melongena'"}],"mark":{"type":"text","fontSize":12,"fontStyle":"italic","color":"#222","dx":-19,"dy":29},"encoding":{"text":{"field":"species"}}},
   {"transform":[{"filter":"datum.part === 'number of Solo-LTR' && datum.species === 'S. lycopersicum'"}],"mark":{"type":"text","fontSize":12,"fontStyle":"italic","color":"#222","dx":11,"dy":-25},"encoding":{"text":{"field":"species"}}},
   {"transform":[{"filter":"datum.part === 'number of Solo-LTR' && datum.species === 'Ph. floridana'"}],"mark":{"type":"text","fontSize":12,"fontStyle":"italic","color":"#222","dx":0,"dy":28.5},"encoding":{"text":{"field":"species"}}},
   {"transform":[{"filter":"datum.part === 'number of Solo-LTR' && datum.species === 'C. annuum'"}],"mark":{"type":"text","fontSize":12,"fontStyle":"italic","color":"#222","dx":2,"dy":-24},"encoding":{"text":{"field":"species"}}},
   {"transform":[{"filter":"datum.part === 'number of Solo-LTR' && datum.species === 'P. tangutica'"}],"mark":{"type":"text","fontSize":12,"fontStyle":"italic","color":"#e8303a","dx":-1.5,"dy":14},"encoding":{"text":{"field":"species"}}},
   {"transform":[{"filter":"datum.part === 'number of Solo-LTR' && datum.species === 'L. chinense'"}],"mark":{"type":"text","fontSize":12,"fontStyle":"italic","color":"#222","dx":9,"dy":-22},"encoding":{"text":{"field":"species"}}},
   {"transform":[{"filter":"datum.part === 'number of Solo-LTR' && datum.species === 'N. tabacum'"}],"mark":{"type":"text","fontSize":12,"fontStyle":"italic","color":"#222","dx":37,"dy":-8.5},"encoding":{"text":{"field":"species"}}},
   {"transform":[{"filter":"datum.part === 'number of Solo-LTR' && datum.species === 'Pe. axillaris'"}],"mark":{"type":"text","fontSize":12,"fontStyle":"italic","color":"#222","dx":10,"dy":19},"encoding":{"text":{"field":"species"}}}
  ]}
],"spacing":3,"bounds":"flush","resolve":{"scale":{"color":"independent","shape":"independent","fill":"independent"}}},
{"vconcat":[
 {"hconcat":[
  {"width":88,"height":1,"data":{"values":[{"a":1}]},"mark":{"type":"point","opacity":0},"encoding":{}},
  {"width":319,"height":169,
   "view":{"stroke":"#8a8a8a","strokeWidth":1},
   "title":{"text":"(c)","frame":"group","anchor":"start","dx":-85,"offset":-13.5,"baseline":"bottom"},
   "data":{"name":"ltr"},
   "transform":[{"fold":["Gypsy","Copia"],"as":["type","count"]}],
   "mark":{"type":"bar"},
   "encoding":{
    "x":{"field":"species","type":"nominal","scale":{"domain":["Pe. axillaris","N. tabacum","L. chinense","P. tangutica","C. annuum","Ph. floridana","S. melongena","S. lycopersicum","S. tuberosum"],"paddingInner":0.58,"paddingOuter":0.24},
     "axis":{"title":"Species","titleFontSize":12.5,"titleFontWeight":"bold","labelAngle":-20,"labelFontSize":9.5,"tickBand":"extent","tickSize":4,"titlePadding":12,"labelColor":{"condition":{"test":"datum.value === 'P. tangutica'","value":"#d42a2a"},"value":"#222222"}}},
    "y":{"field":"count","type":"quantitative","stack":"zero","scale":{"domain":[0,20360],"nice":false},
     "axis":{"values":[0,2000,4000,6000,8000,10000,12000,14000,16000,18000,20000],"format":"d","labelOverlap":false,"labelFontSize":8.5,"labelFontWeight":"bold","title":"No. of LTR-RTs","titleFontSize":11,"titleFontWeight":"bold","tickSize":3,"titlePadding":6}},
    "color":{"field":"type","type":"nominal","scale":{"domain":["Gypsy","Copia"],"range":["#a5aadb","#2cb7b9"]},
     "legend":{"title":"type","titleFontSize":8.5,"titleFontWeight":"bold","labelFontSize":9.5,"labelFontStyle":"italic","orient":"none","legendX":243,"legendY":21,"symbolType":"square","symbolSize":130,"rowPadding":0,"symbolStrokeWidth":0,"titlePadding":4,"labelOffset":4}},
    "order":{"field":"type","type":"ordinal","sort":"ascending"}}},
  {"width":75,"height":1,"data":{"values":[{"a":1}]},"mark":{"type":"point","opacity":0},"encoding":{}},
  {"width":110,"height":211,
   "view":{"stroke":"#7a7a7a"},
   "title":{"text":"(d)","frame":"group","anchor":"start","dx":-79,"offset":-32,"baseline":"bottom"},
   "data":{"name":"rates"},
   "encoding":{
    "x":{"field":"t","type":"quantitative","scale":{"domain":[-0.43,10.5],"nice":false,"zero":false},"axis":{"values":[0,2,4,6,8,10],"labelOverlap":false,"title":"Insertion time (mya)","titleFontSize":12.5,"titleFontWeight":"bold","labelFontSize":7,"tickSize":2.5,"domain":false,"tickColor":"#666","labelColor":"#444","titlePadding":8}},
    "y":{"field":"rate","type":"quantitative","scale":{"domain":[-0.0039,0.0944],"nice":false,"zero":false},"axis":{"values":[0,0.025,0.05,0.075],"format":".3f","labelOverlap":false,"title":"Transposition rate (%)","titleFontSize":11,"titleFontWeight":"bold","labelFontSize":7,"tickSize":2.5,"domain":false,"tickColor":"#666","labelColor":"#444","titlePadding":5}},
    "color":{"field":"sp","type":"nominal","scale":{"domain":["P. tangutica","Ph. floridana","S. lycopersicum"],"range":["#f8766d","#00ba38","#619cff"]},
     "legend":{"title":"Species","titleFontSize":10.5,"titleFontWeight":"bold","labelFontSize":10,"labelFontStyle":"italic","orient":"none","legendX":26,"legendY":10,"symbolSize":25,"rowPadding":2,"titlePadding":5,"labelOffset":3}}
   },
   "layer":[
    {"mark":{"type":"point","filled":true,"size":9},
     "encoding":{"shape":{"field":"sp","type":"nominal","scale":{"domain":["P. tangutica","Ph. floridana","S. lycopersicum"],"range":["circle","triangle-up","square"]},
      "legend":{"title":"Species","titleFontSize":10.5,"titleFontWeight":"bold","labelFontSize":10,"labelFontStyle":"italic","orient":"none","legendX":26,"legendY":10,"symbolSize":25,"rowPadding":2,"titlePadding":5,"labelOffset":3}}}},
    {"transform":[{"loess":"rate","on":"t","groupby":["sp"],"bandwidth":0.45}],"mark":{"type":"line","strokeWidth":0.8}}
   ]},
  {"width":67,"height":1,"data":{"values":[{"a":1}]},"mark":{"type":"point","opacity":0},"encoding":{}},
  {"width":114,"height":211,
   "data":{"name":"rates"},
   "encoding":{
    "x":{"field":"t","type":"quantitative","scale":{"domain":[-0.41,10.45],"nice":false,"zero":false},"axis":{"values":[0,2,4,6,8,10],"labelOverlap":false,"title":"Insertion time (mya)","titleFontSize":12.5,"titleFontWeight":"bold","labelFontSize":7,"tickSize":2.5,"domain":false,"tickColor":"#666","labelColor":"#444","titlePadding":8}},
    "y":{"field":"acc","type":"quantitative","scale":{"domain":[-0.12,1.052],"nice":false,"zero":false},"axis":{"values":[0,0.25,0.5,0.75,1],"format":".2f","labelOverlap":false,"title":"Accumulation rate (%)","titleFontSize":11,"titleFontWeight":"bold","labelFontSize":7,"tickSize":2.5,"domain":false,"tickColor":"#666","labelColor":"#444","titlePadding":5}},
    "color":{"field":"sp","type":"nominal","scale":{"domain":["P. tangutica","Ph. floridana","S. lycopersicum"],"range":["#f8766d","#00ba38","#619cff"]},"legend":null}
   },
   "layer":[
    {"mark":{"type":"point","filled":true,"size":9},
     "encoding":{"shape":{"field":"sp","type":"nominal","scale":{"domain":["P. tangutica","Ph. floridana","S. lycopersicum"],"range":["circle","triangle-up","square"]},"legend":null}}},
    {"transform":[{"loess":"acc","on":"t","groupby":["sp"],"bandwidth":0.3}],"mark":{"type":"line","strokeWidth":0.8}}
   ]}
 ],"spacing":0,"bounds":"flush","center":true,"resolve":{"scale":{"color":"independent","shape":"independent"}}},
 {"hconcat":[
  {"width":62,"height":1,"data":{"values":[{"a":1}]},"mark":{"type":"point","opacity":0},"encoding":{}},
  {"width":193,"height":190,
   "view":{"stroke":"#3a3a3a","fill":{"gradient":"linear","x1":0,"y1":0,"x2":0,"y2":1,"stops":[{"offset":0,"color":"#ffffff"},{"offset":0.5,"color":"#ffffff"},{"offset":1,"color":"#e7cfca"}]}},
   "title":{"text":"(e)","frame":"group","anchor":"start","dx":-60,"offset":-16.5,"baseline":"bottom"},
   "layer":[
    {"data":{"name":"pt_hist"},"transform":[{"fold":["Gypsy","Copia"],"as":["type","count"]}],
     "mark":{"type":"bar","stroke":"#ffffff","strokeWidth":0.7},
     "encoding":{
      "x":{"field":"t0","type":"quantitative","bin":"binned","scale":{"domain":[0,7.47],"nice":false,"zero":false},"axis":{"values":[0,1,2,3,4,5,6,7],"format":"d","labelOverlap":false,"title":"Insertion time (mya)","titleFontSize":13,"titleFontWeight":"bold","labelFontSize":9.5,"labelFontWeight":"bold","tickSize":3,"labelPadding":2,"titlePadding":5}},
      "x2":{"field":"t1"},
      "y":{"field":"count","type":"quantitative","stack":"zero","scale":{"domain":[0,1000],"nice":false},"axis":{"values":[0,250,500,750,1000],"format":"d","labelOverlap":false,"title":"Copy Number","titleFontSize":13,"titleFontWeight":"bold","labelFontSize":9,"labelFontWeight":"bold","tickSize":3,"labelPadding":2,"titlePadding":3}},
      "color":{"field":"type","type":"nominal","scale":{"domain":["Gypsy","Copia"],"range":["#b0b4e0","#35bcbc"]},
       "legend":{"title":"type","titleFontSize":9.5,"titleFontWeight":"bold","labelFontSize":10.5,"labelFontStyle":"italic","orient":"none","legendX":138,"legendY":57,"symbolType":"square","symbolSize":160,"rowPadding":1,"symbolStrokeWidth":0,"titlePadding":5,"labelOffset":4}},
      "order":{"field":"type","type":"ordinal","sort":"ascending"}}},
    {"data":{"values":[{"label":"Przewalskia tangutica"}]},"mark":{"type":"text","fontSize":12.5,"fontStyle":"italic","color":"#222"},
     "encoding":{"x":{"datum":4.19,"axis":{"values":[0,1,2,3,4,5,6,7],"format":"d","labelOverlap":false,"title":"Insertion time (mya)","titleFontSize":13,"titleFontWeight":"bold","labelFontSize":9.5,"labelFontWeight":"bold","tickSize":3,"labelPadding":2,"titlePadding":5}},"y":{"datum":787,"axis":{"values":[0,250,500,750,1000],"format":"d","labelOverlap":false,"title":"Copy Number","titleFontSize":13,"titleFontWeight":"bold","labelFontSize":9,"labelFontWeight":"bold","tickSize":3,"labelPadding":2,"titlePadding":3}},"text":{"field":"label"}}}
   ]},
  {"width":76,"height":1,"data":{"values":[{"a":1}]},"mark":{"type":"point","opacity":0},"encoding":{}},
  {"width":192,"height":190,
   "view":{"stroke":"#3a3a3a","fill":{"gradient":"linear","x1":0,"y1":0,"x2":0,"y2":1,"stops":[{"offset":0,"color":"#ffffff"},{"offset":0.5,"color":"#ffffff"},{"offset":1,"color":"#e7cfca"}]}},
   "title":{"text":"(f)","frame":"group","anchor":"start","dx":-64,"offset":-16.5,"baseline":"bottom"},
   "layer":[
    {"data":{"name":"pf_hist"},"transform":[{"fold":["Gypsy","Copia"],"as":["type","count"]}],
     "mark":{"type":"bar","stroke":"#ffffff","strokeWidth":0.7},
     "encoding":{
      "x":{"field":"t0","type":"quantitative","bin":"binned","scale":{"domain":[0,7.47],"nice":false,"zero":false},"axis":{"values":[0,1,2,3,4,5,6,7],"format":"d","labelOverlap":false,"title":"Insertion time (mya)","titleFontSize":13,"titleFontWeight":"bold","labelFontSize":9.5,"labelFontWeight":"bold","tickSize":3,"labelPadding":2,"titlePadding":5}},
      "x2":{"field":"t1"},
      "y":{"field":"count","type":"quantitative","stack":"zero","scale":{"domain":[0,1000],"nice":false},"axis":{"values":[0,250,500,750,1000],"format":"d","labelOverlap":false,"title":"Copy Number","titleFontSize":13,"titleFontWeight":"bold","labelFontSize":9,"labelFontWeight":"bold","tickSize":3,"labelPadding":2,"titlePadding":3}},
      "color":{"field":"type","type":"nominal","scale":{"domain":["Gypsy","Copia"],"range":["#b0b4e0","#35bcbc"]},
       "legend":{"title":"type","titleFontSize":9.5,"titleFontWeight":"bold","labelFontSize":10.5,"labelFontStyle":"italic","orient":"none","legendX":133,"legendY":58,"symbolType":"square","symbolSize":160,"rowPadding":1,"symbolStrokeWidth":0,"titlePadding":5,"labelOffset":4}},
      "order":{"field":"type","type":"ordinal","sort":"ascending"}}},
    {"data":{"values":[{"label":"Physalis floridana"}]},"mark":{"type":"text","fontSize":12.5,"fontStyle":"italic","color":"#222"},
     "encoding":{"x":{"datum":4.41,"axis":{"values":[0,1,2,3,4,5,6,7],"format":"d","labelOverlap":false,"title":"Insertion time (mya)","titleFontSize":13,"titleFontWeight":"bold","labelFontSize":9.5,"labelFontWeight":"bold","tickSize":3,"labelPadding":2,"titlePadding":5}},"y":{"datum":789,"axis":{"values":[0,250,500,750,1000],"format":"d","labelOverlap":false,"title":"Copy Number","titleFontSize":13,"titleFontWeight":"bold","labelFontSize":9,"labelFontWeight":"bold","tickSize":3,"labelPadding":2,"titlePadding":3}},"text":{"field":"label"}}}
   ]},
  {"width":76,"height":1,"data":{"values":[{"a":1}]},"mark":{"type":"point","opacity":0},"encoding":{}},
  {"width":195,"height":190,
   "view":{"stroke":"#3a3a3a","fill":{"gradient":"linear","x1":0,"y1":0,"x2":0,"y2":1,"stops":[{"offset":0,"color":"#ffffff"},{"offset":0.5,"color":"#ffffff"},{"offset":1,"color":"#e7cfca"}]}},
   "title":{"text":"(g)","frame":"group","anchor":"start","dx":-64,"offset":-16.5,"baseline":"bottom"},
   "layer":[
    {"data":{"name":"sl_hist"},"transform":[{"fold":["Gypsy","Copia"],"as":["type","count"]}],
     "mark":{"type":"bar","stroke":"#ffffff","strokeWidth":0.7},
     "encoding":{
      "x":{"field":"t0","type":"quantitative","bin":"binned","scale":{"domain":[0,7.47],"nice":false,"zero":false},"axis":{"values":[0,1,2,3,4,5,6,7],"format":"d","labelOverlap":false,"title":"Insertion time (mya)","titleFontSize":13,"titleFontWeight":"bold","labelFontSize":9.5,"labelFontWeight":"bold","tickSize":3,"labelPadding":2,"titlePadding":5}},
      "x2":{"field":"t1"},
      "y":{"field":"count","type":"quantitative","stack":"zero","scale":{"domain":[0,300],"nice":false},"axis":{"values":[0,100,200,300],"format":"d","labelOverlap":false,"title":"Copy Number","titleFontSize":13,"titleFontWeight":"bold","labelFontSize":9,"labelFontWeight":"bold","tickSize":3,"labelPadding":2,"titlePadding":3}},
      "color":{"field":"type","type":"nominal","scale":{"domain":["Gypsy","Copia"],"range":["#b0b4e0","#35bcbc"]},
       "legend":{"title":"type","titleFontSize":9.5,"titleFontWeight":"bold","labelFontSize":10.5,"labelFontStyle":"italic","orient":"none","legendX":132,"legendY":58,"symbolType":"square","symbolSize":160,"rowPadding":1,"symbolStrokeWidth":0,"titlePadding":5,"labelOffset":4}},
      "order":{"field":"type","type":"ordinal","sort":"ascending"}}},
    {"data":{"values":[{"label":"Solanum lycopersicum"}]},"mark":{"type":"text","fontSize":12.5,"fontStyle":"italic","color":"#222"},
     "encoding":{"x":{"datum":4.97,"axis":{"values":[0,1,2,3,4,5,6,7],"format":"d","labelOverlap":false,"title":"Insertion time (mya)","titleFontSize":13,"titleFontWeight":"bold","labelFontSize":9.5,"labelFontWeight":"bold","tickSize":3,"labelPadding":2,"titlePadding":5}},"y":{"datum":237,"axis":{"values":[0,100,200,300],"format":"d","labelOverlap":false,"title":"Copy Number","titleFontSize":13,"titleFontWeight":"bold","labelFontSize":9,"labelFontWeight":"bold","tickSize":3,"labelPadding":2,"titlePadding":3}},"text":{"field":"label"}}}
   ]}
 ],"spacing":0,"bounds":"flush","resolve":{"scale":{"color":"independent","shape":"independent"}}}
],"spacing":3,"resolve":{"scale":{"color":"independent","shape":"independent"}}}
]
}
